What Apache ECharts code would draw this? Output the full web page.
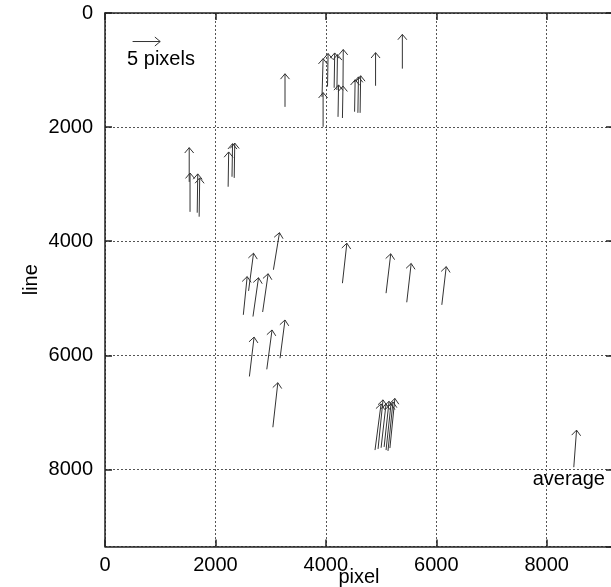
<!DOCTYPE html>
<html><head><meta charset="utf-8">
<script src="https://cdn.jsdelivr.net/npm/echarts@6/dist/echarts.min.js"></script>
<style>html,body{margin:0;padding:0;background:#fff}#c{width:611px;height:587px}</style>
</head><body><div id="c"></div>
<script>
// Measured displacement vectors: tail position (pixel, line) and shift (in pixels)
const tailX  = [3950,3930,4030,4150,4200,4310,4220,4300,4520,4580,4620,4900,5385,3260,
                1525,1540,1670,1705,2230,2300,2340,
                3050,2600,2505,2680,2855,2615,2930,3170,3040,
                4300,5090,5465,6100,
                4890,4945,5000,5055,5090,5125,5160];
const tailY  = [1995,1470,1290,1310,1350,1290,1820,1840,1730,1750,1750,1275,975,1645,
                2960,3485,3500,3570,3045,2870,2890,
                4500,4870,5290,5320,5240,6370,6245,6050,7260,
                4735,4910,5070,5115,
                7660,7640,7620,7605,7660,7675,7625];
const shiftX = [0,0.2,0.1,0.1,0.1,0.05,0.1,0.1,0.1,0.1,0.1,0,0,0,
                0,0,0.1,0.1,0.1,0.1,0.1,
                1.1,0.9,0.7,1.0,1.0,0.85,0.95,0.9,0.9,
                0.8,0.85,0.8,0.8,
                1.1,0.9,0.9,0.9,0.9,0.9,0.9];
const shiftY = [-6.0,-6.7,-5.8,-6.1,-6.2,-6.5,-5.6,-5.6,-5.6,-6.3,-6.5,-5.8,-6.0,-5.8,
                -6.0,-6.8,-6.8,-6.8,-6.1,-5.8,-6.1,
                -6.5,-6.6,-6.7,-6.8,-6.7,-6.9,-6.9,-6.7,-7.8,
                -7.0,-6.9,-6.8,-6.7,
                -8.1,-8.6,-7.7,-8.0,-8.1,-8.6,-8.7];
// key arrow and average arrow
const keyArrow = [500, 500, 5, 0];
const avgArrow = [8490, 7960, 0.5, -6.5];
const SCALE = 100; // data units per pixel of shift
// annotations
const noteText = ['5 pixels', 'average'];
const noteX = [400, 8400];
const noteY = [820, 8180];
const noteAlign = ['left', 'center'];
// axes
const xMax = 9200, yMax = 9350, tickStep = 2000;
const xTitle = 'pixel', yTitle = 'line';

const FONT = '"Liberation Sans", Arial, Helvetica, sans-serif';
const arrowData = tailX.map((x, i) => [x, tailY[i], shiftX[i], shiftY[i]]);
arrowData.push(keyArrow, avgArrow);
const noteData = noteText.map((t, i) => [noteX[i], noteY[i], i]);

function renderArrow(params, api) {
  const x = api.value(0), y = api.value(1), dx = api.value(2), dy = api.value(3);
  const p0 = api.coord([x, y]);
  const p1 = api.coord([x + dx * SCALE, y + dy * SCALE]);
  const a = Math.atan2(p1[1] - p0[1], p1[0] - p0[0]);
  const L = 7, th = 40 * Math.PI / 180;
  const h1 = [p1[0] - L * Math.cos(a - th), p1[1] - L * Math.sin(a - th)];
  const h2 = [p1[0] - L * Math.cos(a + th), p1[1] - L * Math.sin(a + th)];
  const st = { stroke: '#333', lineWidth: 1, fill: null };
  return { type: 'group', children: [
    { type: 'line', shape: { x1: p0[0], y1: p0[1], x2: p1[0], y2: p1[1] }, style: st },
    { type: 'polyline', shape: { points: [h1, p1, h2] }, style: st }
  ]};
}
function renderNote(params, api) {
  const p = api.coord([api.value(0), api.value(1)]);
  const i = api.value(2);
  return { type: 'text', style: { x: p[0], y: p[1], text: noteText[i], fill: '#000',
    font: '20px ' + FONT, textAlign: noteAlign[i], textVerticalAlign: 'middle' } };
}
const plain = v => String(v);

const axisLineStyle = { color: '#222', width: 1.5 };
const chart = echarts.init(document.getElementById('c'));
chart.setOption({
  animation: false,
  backgroundColor: '#fff',
  grid: { left: 105, top: 13, width: 508, height: 533.5, containLabel: false, outerBoundsMode: 'none' },
  xAxis: [{
    type: 'value', min: 0, max: xMax, interval: tickStep, position: 'bottom',
    name: xTitle, nameLocation: 'middle', nameGap: 21, nameMoveOverlap: false,
    nameTextStyle: { fontSize: 20, fontFamily: FONT, color: '#000', verticalAlign: 'top' },
    axisLine: { show: true, onZero: false, lineStyle: axisLineStyle },
    axisTick: { show: true, inside: true, length: 7, lineStyle: axisLineStyle },
    axisLabel: { fontSize: 20, fontFamily: FONT, color: '#000', margin: 9, showMaxLabel: false, formatter: plain },
    splitLine: { show: true, lineStyle: { color: '#555', type: [2, 2], width: 1 } }
  }, {
    type: 'value', min: 0, max: xMax, interval: tickStep, position: 'top',
    axisLine: { show: true, onZero: false, lineStyle: axisLineStyle },
    axisTick: { show: true, inside: true, length: 7, lineStyle: axisLineStyle },
    axisLabel: { show: false }, splitLine: { show: false }
  }],
  yAxis: [{
    type: 'value', min: 0, max: yMax, interval: tickStep, inverse: true, position: 'left',
    name: yTitle, nameLocation: 'middle', nameGap: 64, nameRotate: 90, nameMoveOverlap: false,
    nameTextStyle: { fontSize: 20, fontFamily: FONT, color: '#000' },
    axisLine: { show: true, onZero: false, lineStyle: axisLineStyle },
    axisTick: { show: true, inside: true, length: 7, lineStyle: axisLineStyle },
    axisLabel: { fontSize: 20, fontFamily: FONT, color: '#000', margin: 12, showMaxLabel: false, formatter: plain },
    splitLine: { show: true, lineStyle: { color: '#555', type: [2, 2], width: 1 } }
  }, {
    type: 'value', min: 0, max: yMax, interval: tickStep, inverse: true, position: 'right',
    axisLine: { show: true, onZero: false, lineStyle: axisLineStyle },
    axisTick: { show: true, inside: true, length: 7, lineStyle: axisLineStyle },
    axisLabel: { show: false }, splitLine: { show: false }
  }],
  series: [{
    type: 'custom', xAxisIndex: 0, yAxisIndex: 0, clip: false,
    renderItem: renderArrow, data: arrowData, encode: { x: 0, y: 1 }, silent: true
  }, {
    type: 'custom', xAxisIndex: 0, yAxisIndex: 0, clip: false,
    renderItem: renderNote, data: noteData, encode: { x: 0, y: 1 }, silent: true
  }]
});
</script></body></html>
